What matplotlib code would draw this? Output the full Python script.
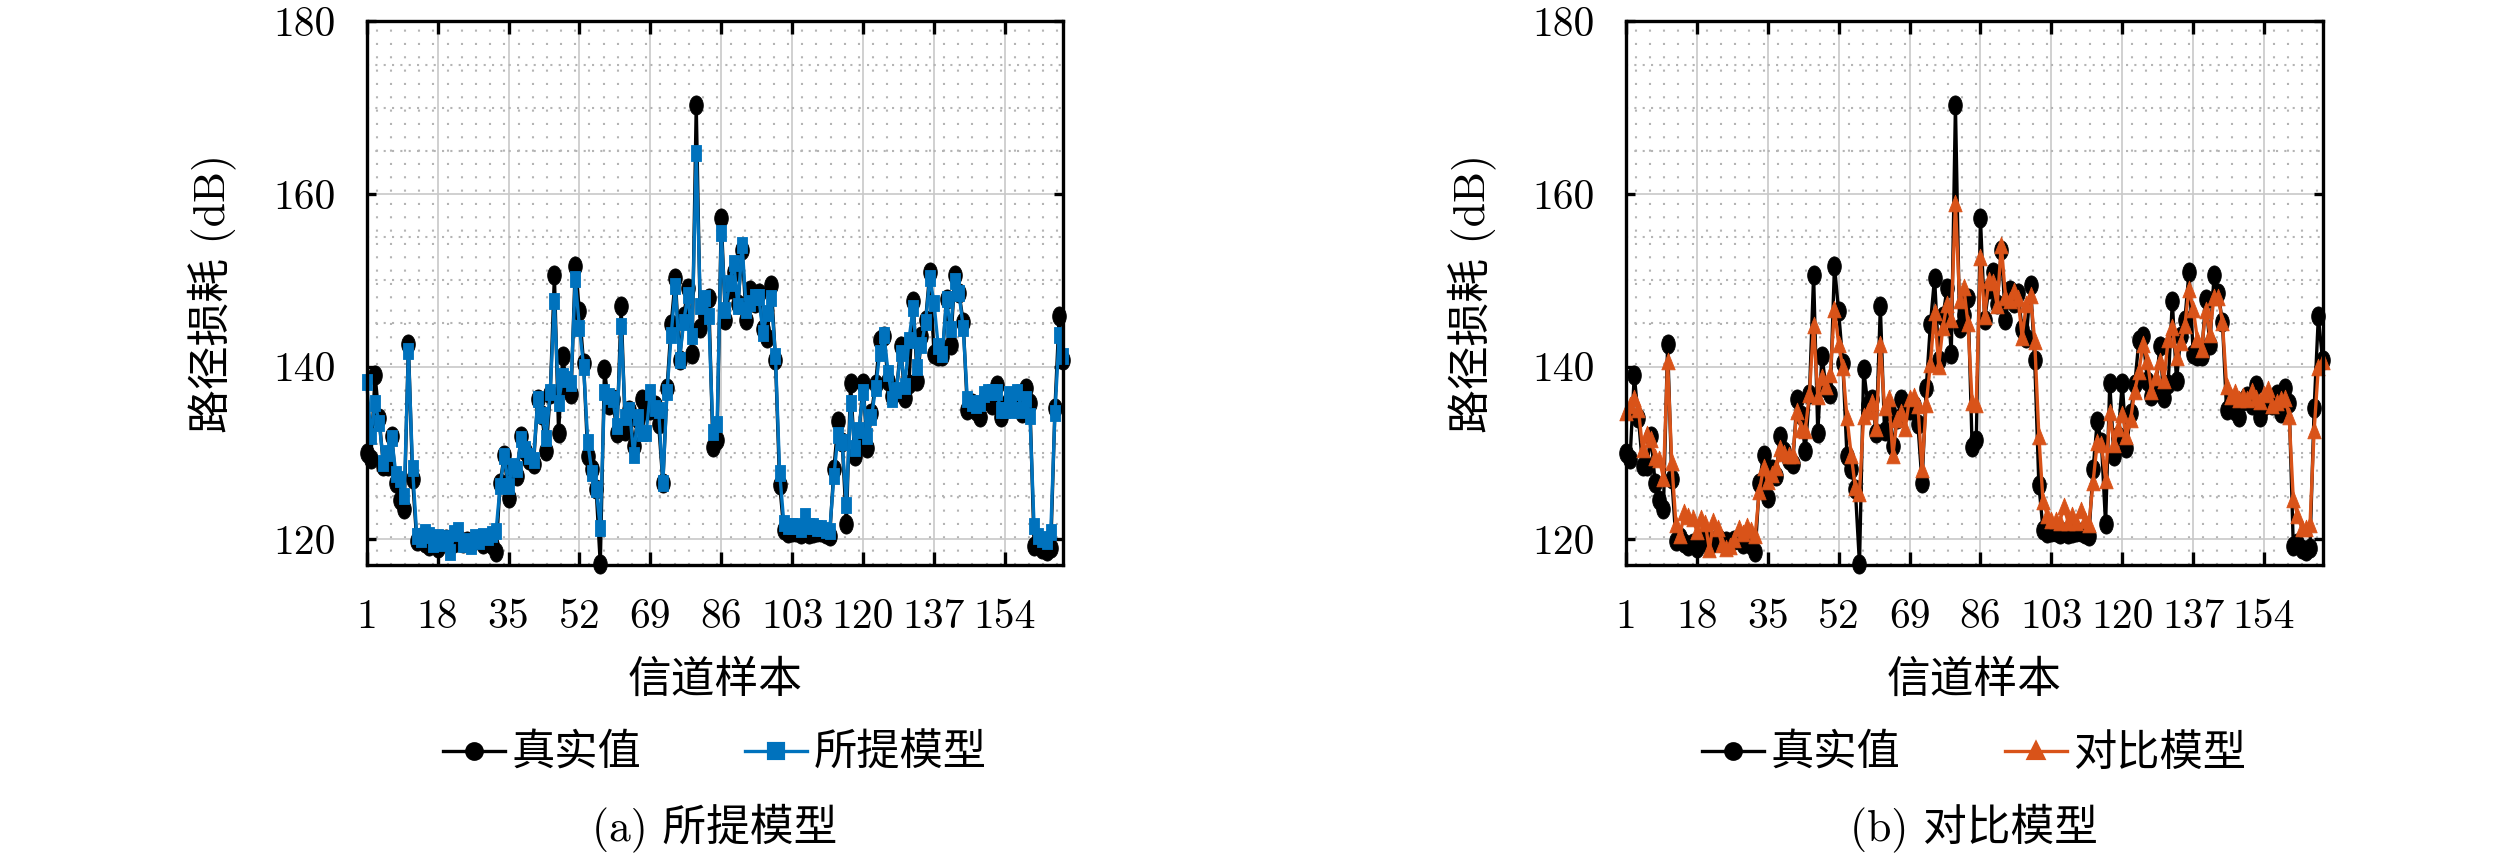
import numpy as np
import matplotlib
matplotlib.use("Agg")
import matplotlib.pyplot as plt
from matplotlib.path import Path
from matplotlib.ticker import MultipleLocator, FixedLocator
from matplotlib.lines import Line2D

plt.rcParams['font.family'] = ['cmr10', 'Noto Sans CJK SC']
plt.rcParams['axes.formatter.use_mathtext'] = True

# ---------------- data ----------------
sample_idx = list(range(1, 169))
x_ticks = [1, 18, 35, 52, 69, 86, 103, 120, 137, 154]
y_ticks = [120, 140, 160, 180]

true_vals = [
    130.0, 129.3, 139.0, 134.0, 128.5, 128.5, 132.0, 126.5, 124.5, 123.5,
    142.6, 127.0, 119.8, 120.2, 119.6, 119.2, 119.5, 119.0, 119.8, 120.0,
    119.3, 119.6, 120.1, 119.5, 119.8, 119.6, 119.9, 120.0, 119.4, 119.7,
    119.3, 118.5, 126.5, 129.8, 124.8, 128.1, 127.3, 132.0, 130.2, 129.2,
    128.7, 136.2, 134.4, 130.2, 136.8, 150.6, 132.3, 141.2, 137.5, 136.8,
    151.7, 146.4, 140.4, 129.6, 128.1, 125.8, 117.1, 139.7, 135.6, 136.2,
    132.3, 147.0, 132.5, 135.0, 130.8, 133.9, 136.2, 135.0, 135.0, 135.6,
    133.3, 126.5, 137.5, 144.9, 150.3, 140.8, 145.8, 149.1, 141.4, 170.3,
    144.5, 146.0, 148.0, 130.7, 131.5, 157.2, 145.4, 149.0, 151.0, 147.2,
    153.5, 145.4, 148.9, 147.4, 148.5, 144.3, 143.3, 149.5, 140.8, 126.3,
    121.1, 120.7, 120.8, 120.8, 120.6, 120.8, 120.6, 120.7, 120.8, 120.8,
    120.6, 120.4, 128.1, 133.7, 131.2, 121.7, 138.1, 129.6, 132.0, 138.1,
    130.6, 134.6, 138.0, 143.1, 143.5, 138.3, 136.6, 137.0, 142.4, 136.4,
    138.0, 147.6, 138.3, 143.5, 145.4, 151.0, 141.5, 141.2, 141.2, 147.8,
    142.5, 150.6, 148.5, 145.2, 135.0, 135.8, 134.8, 134.1, 136.0, 136.6,
    135.6, 137.9, 134.1, 135.4, 136.0, 135.6, 136.8, 134.6, 137.5, 135.8,
    119.2, 119.6, 118.8, 118.6, 119.0, 135.2, 145.8, 140.8,
]

proposed_vals = [
    138.2, 132.0, 135.8, 133.5, 128.8, 130.0, 131.7, 127.5, 127.0, 125.0,
    141.8, 128.2, 120.4, 120.0, 120.8, 120.5, 119.4, 120.3, 119.6, 120.1,
    118.5, 120.7, 121.0, 119.4, 119.8, 119.2, 120.2, 119.8, 120.4, 120.3,
    120.6, 120.9, 126.2, 129.6, 126.2, 128.5, 128.1, 131.6, 130.4, 129.6,
    129.2, 136.2, 134.4, 131.7, 137.0, 147.6, 135.8, 138.9, 138.5, 138.1,
    150.1, 144.5, 140.0, 131.2, 127.7, 125.8, 121.3, 137.0, 136.6, 136.2,
    133.1, 144.7, 134.1, 135.0, 129.8, 134.1, 132.3, 132.3, 137.1, 135.2,
    135.0, 126.5, 137.1, 143.7, 149.3, 140.8, 145.2, 148.3, 143.5, 164.7,
    147.0, 148.0, 145.8, 132.4, 133.3, 155.5, 146.6, 149.7, 152.0, 147.0,
    154.1, 146.6, 147.4, 148.1, 148.1, 143.9, 146.2, 147.9, 141.2, 127.7,
    121.9, 121.5, 121.5, 121.5, 121.2, 122.7, 121.5, 121.5, 121.3, 121.3,
    121.1, 120.9, 127.3, 132.1, 131.2, 124.0, 135.8, 130.6, 132.7, 137.1,
    131.9, 134.1, 137.5, 141.6, 143.7, 139.3, 136.2, 137.3, 141.6, 137.7,
    143.1, 146.8, 140.0, 142.5, 145.2, 150.3, 147.4, 142.4, 141.4, 147.8,
    144.3, 149.9, 148.5, 144.5, 136.2, 135.8, 135.6, 135.8, 136.8, 137.1,
    137.0, 137.1, 135.0, 135.0, 136.8, 135.0, 137.0, 135.0, 136.2, 134.3,
    121.5, 120.4, 120.0, 119.8, 120.8, 134.6, 143.7, 141.2,
]

compare_vals = [
    134.7, 135.6, 136.4, 135.1, 130.4, 132.2, 131.6, 129.5, 129.3, 127.1,
    140.7, 128.9, 121.7, 120.5, 123.1, 122.7, 122.5, 120.9, 122.5, 121.9,
    118.8, 122.1, 121.3, 119.4, 119.0, 119.2, 120.0, 121.3, 120.7, 121.5,
    121.1, 120.5, 125.6, 128.3, 126.7, 127.5, 128.3, 130.6, 130.0, 129.8,
    129.7, 134.9, 132.8, 132.6, 136.8, 144.8, 136.6, 138.8, 137.8, 139.1,
    146.7, 142.6, 139.9, 134.1, 129.8, 126.0, 125.4, 134.3, 134.9, 135.9,
    132.9, 142.6, 135.3, 136.4, 129.7, 133.9, 134.7, 132.9, 136.4, 136.6,
    135.5, 128.1, 135.7, 140.3, 146.3, 140.1, 144.6, 147.3, 145.5, 158.9,
    147.7, 149.2, 145.0, 135.9, 135.7, 152.7, 145.9, 150.0, 149.8, 147.1,
    154.1, 148.1, 147.7, 148.8, 147.9, 143.4, 147.3, 148.3, 143.0, 132.0,
    124.4, 122.8, 122.2, 122.2, 122.0, 123.8, 122.0, 122.8, 122.0, 123.4,
    122.2, 121.7, 126.6, 131.2, 131.0, 126.9, 134.7, 131.0, 132.9, 134.5,
    132.0, 133.9, 137.2, 139.5, 142.6, 140.7, 137.2, 138.8, 140.7, 138.4,
    143.2, 144.6, 141.1, 142.8, 144.8, 149.0, 146.7, 143.2, 142.0, 146.5,
    143.8, 148.1, 148.1, 145.2, 137.8, 136.6, 137.0, 136.2, 136.6, 136.2,
    137.2, 136.4, 136.0, 136.8, 137.4, 135.5, 135.9, 136.2, 136.4, 134.3,
    124.6, 122.8, 121.3, 121.3, 121.7, 132.6, 139.9, 140.7,
]

panel_labels = ["(a) 所提模型", "(b) 对比模型"]
series_names = ["真实值", "所提模型", "对比模型"]
xlabel_text = "信道样本"
ylabel_text = "路径损耗 (dB)"

# ---------------- style ----------------
BLACK = "#000000"
BLUE = "#0072BD"
ORANGE = "#D95319"

t = np.linspace(0, 2 * np.pi, 40)
ellipse_marker = Path(np.column_stack([0.71 * np.cos(t), np.sin(t)]), closed=True)
rect_marker = Path([(-0.68, -1), (0.68, -1), (0.68, 1), (-0.68, 1), (-0.68, -1)], closed=True)
tri_marker = Path([(0, 1), (-0.8, -1), (0.8, -1), (0, 1)], closed=True)

fig = plt.figure(figsize=(8.4, 860 / 300), dpi=300)

ax_w = 696.6 / 2520
ax_b = 1 - 565 / 860
ax_h = (565 - 21.4) / 860
lefts = [366.7 / 2520, 1625.9 / 2520]

model_vals = [proposed_vals, compare_vals]
model_colors = [BLUE, ORANGE]
model_markers = [rect_marker, tri_marker]
legend_markers = ['s', '^']
model_ms = [3.7, 4.0]

for k in range(2):
    ax = fig.add_axes([lefts[k], ax_b, ax_w, ax_h])
    ax.plot(sample_idx, true_vals, color=BLACK, lw=0.8, marker=ellipse_marker,
            ms=4.6, mfc=BLACK, mec=BLACK, mew=0.2, zorder=3, clip_on=False)
    ax.plot(sample_idx, model_vals[k], color=model_colors[k], lw=0.8,
            marker=model_markers[k], ms=model_ms[k], mfc=model_colors[k],
            mec=model_colors[k], mew=0.2, zorder=4, clip_on=False)

    ax.set_xlim(1, 168)
    ax.set_ylim(117, 180)
    ax.xaxis.set_major_locator(FixedLocator(x_ticks))
    ax.set_xticklabels([str(v) for v in x_ticks])
    ax.yaxis.set_major_locator(FixedLocator(y_ticks))
    ax.set_yticklabels([str(v) for v in y_ticks])
    ax.xaxis.set_minor_locator(FixedLocator(np.arange(3.4, 168, 3.4)))
    ax.yaxis.set_minor_locator(MultipleLocator(5))

    ax.grid(which='major', color='#c8c8c8', lw=0.4, ls='-', zorder=0)
    ax.grid(which='minor', axis='x', color='#b4b4b4', lw=0.5, ls=(0, (1, 5.4)), zorder=0)
    ax.grid(which='minor', axis='y', color='#b4b4b4', lw=0.5, ls=(0, (1, 3)), zorder=0)
    ax.set_axisbelow(True)

    ax.tick_params(which='major', axis='x', direction='in', length=3.2, width=0.8,
                   top=True, bottom=True, labelsize=10, pad=8, colors='black')
    ax.tick_params(which='major', axis='y', direction='in', length=2.2, width=0.8,
                   left=True, right=True, labelsize=10, pad=7.5, colors='black')
    ax.tick_params(which='minor', length=0, top=True, right=True)
    for sp in ax.spines.values():
        sp.set_linewidth(0.8)
        sp.set_color('black')
        sp.set_zorder(5)

    ax.set_xlabel(xlabel_text, fontsize=10.5, va='center')
    ax.xaxis.set_label_coords(0.5, (565 - 682) / 543.6)
    ax.set_ylabel(ylabel_text, fontsize=10.5, va='center')
    ax.yaxis.set_label_coords((212 - 366.7) / 696.6, 0.5)

    handles = [
        Line2D([], [], color=BLACK, lw=0.8, marker='o', ms=3.5, mfc=BLACK, mec=BLACK),
        Line2D([], [], color=model_colors[k], lw=0.8, marker=legend_markers[k], ms=3.3,
               mfc=model_colors[k], mec=model_colors[k]),
    ]
    ax.legend(handles, [series_names[0], series_names[k + 1]], loc='center',
              bbox_to_anchor=(0.5, (565 - 755) / 543.6), ncol=2, frameon=False,
              fontsize=10.4, handlelength=1.43, handletextpad=0.15, columnspacing=2.4,
              borderaxespad=0, borderpad=0)

    fig.text(lefts[k] + ax_w / 2, 1 - 828 / 860, panel_labels[k], fontsize=10.5,
             ha='center', va='center')

fig.savefig("out.png", dpi=300)
